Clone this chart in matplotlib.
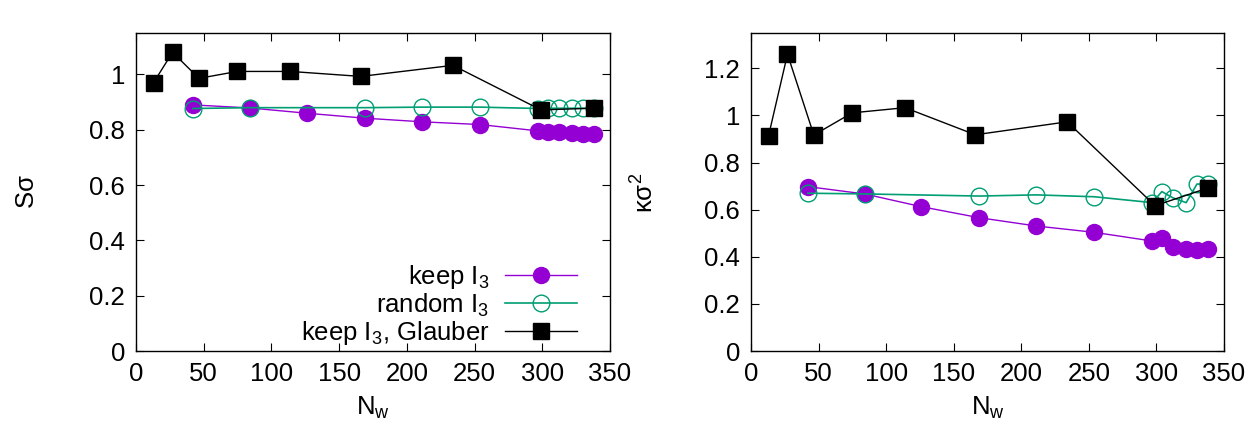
import numpy as np
import matplotlib
matplotlib.use('Agg')
import matplotlib.pyplot as plt

plt.rcParams['font.family'] = ['Liberation Sans', 'DejaVu Sans']
plt.rcParams['mathtext.fontset'] = 'custom'
plt.rcParams['mathtext.rm'] = 'Liberation Sans'
plt.rcParams['mathtext.it'] = 'Liberation Sans'

# N_w positions
nw_keep = [42, 84, 126, 169, 211, 254, 297, 304, 312, 322, 330, 338]
nw_rand = [42, 84, 169, 211, 254, 297, 304, 312, 322, 330, 338]
nw_glau = [13, 27, 46.5, 74.8, 114, 166, 234, 299, 338]

# S sigma
ss_keep = [0.890, 0.879, 0.860, 0.842, 0.829, 0.819, 0.796, 0.793, 0.791, 0.788, 0.785, 0.785]
ss_rand = [0.877, 0.880, 0.880, 0.882, 0.882, 0.877, 0.878, 0.878, 0.878, 0.878, 0.878]
ss_glau = [0.971, 1.080, 0.986, 1.011, 1.011, 0.993, 1.033, 0.872, 0.878]

# kappa sigma^2
ks_keep = [0.698, 0.667, 0.613, 0.566, 0.531, 0.504, 0.467, 0.480, 0.440, 0.433, 0.431, 0.433]
ks_rand = [0.670, 0.667, 0.658, 0.663, 0.655, 0.630, 0.677, 0.651, 0.630, 0.709, 0.708]
ks_glau = [0.914, 1.260, 0.917, 1.011, 1.033, 0.918, 0.973, 0.617, 0.692]

purple = '#9400D3'
green = '#009E73'

fig = plt.figure(figsize=(12.5, 4.34), dpi=100)
ax1 = fig.add_axes([0.1088, 0.191, 0.3792, 0.733])
ax2 = fig.add_axes([0.6008, 0.191, 0.3784, 0.733])

fs = 18.5
for ax, yk, yr, yg in [(ax1, ss_keep, ss_rand, ss_glau), (ax2, ks_keep, ks_rand, ks_glau)]:
    ax.plot(nw_keep, yk, '-o', color=purple, lw=1, ms=11.5, label='keep I$_3$')
    ax.plot(nw_rand, yr, '-o', color=green, lw=1.2, ms=12, mfc='none', mew=1,
            label='random I$_3$')
    ax.plot(nw_glau, yg, '-s', color='black', lw=1, ms=12, label='keep I$_3$, Glauber')
    ax.set_xlim(0, 350)
    ax.set_xticks(np.arange(0, 351, 50))
    ax.tick_params(direction='in', top=True, right=True, labelsize=fs, length=6, pad=8)
    ax.set_xlabel('N$_w$', fontsize=fs, labelpad=6)
    for s in ax.spines.values():
        s.set_linewidth(1)

ax1.set_ylim(0, 1.15)
ax1.set_yticks([0, 0.2, 0.4, 0.6, 0.8, 1])
ax1.set_yticklabels(['0', '0.2', '0.4', '0.6', '0.8', '1'])
ax1.set_ylabel('S$\\sigma$', fontsize=fs, labelpad=36)

ax2.set_ylim(0, 1.35)
ax2.set_yticks([0, 0.2, 0.4, 0.6, 0.8, 1, 1.2])
ax2.set_yticklabels(['0', '0.2', '0.4', '0.6', '0.8', '1', '1.2'])
ax2.set_ylabel('$\\kappa\\sigma^2$', fontsize=fs, labelpad=33)

ax1.legend(loc='lower right', bbox_to_anchor=(0.96, -0.03), frameon=False, fontsize=fs,
           markerfirst=False, handlelength=2.8, labelspacing=0.0, borderaxespad=0.15,
           handletextpad=0.6)

plt.savefig('out.png', dpi=100)
